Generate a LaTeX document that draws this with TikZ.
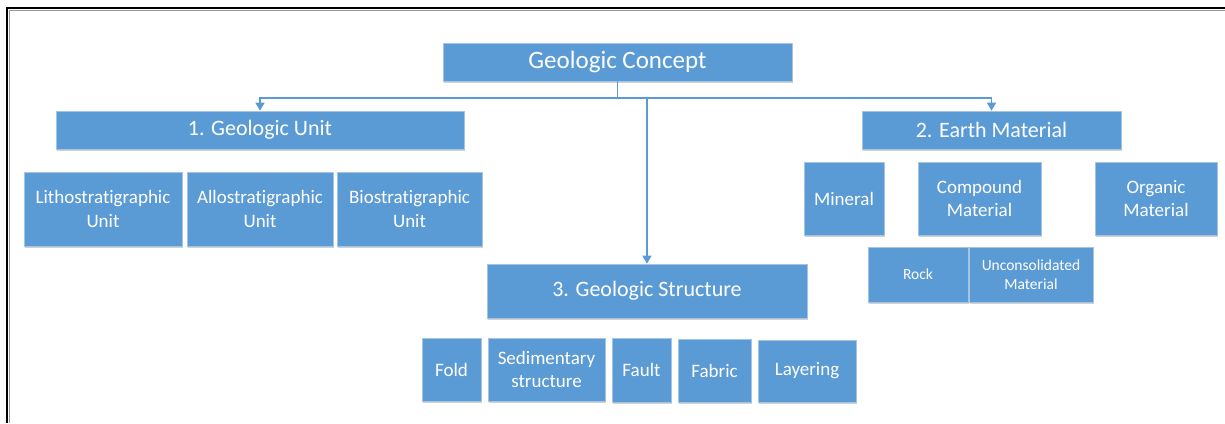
\documentclass[tikz,border=0pt]{standalone}
\usepackage{fontspec}
\setmainfont{Carlito}[Ligatures={NoCommon}]
\usetikzlibrary{arrows.meta,shadows}
\definecolor{offblue}{RGB}{91,155,213}
\definecolor{edgeblue}{RGB}{165,196,228}
\tikzset{
  gbox/.style={fill=offblue, draw=edgeblue, line width=0.6pt, text=white,
    inner sep=2pt, align=center, anchor=center,
    drop shadow={opacity=0.18, shadow xshift=1.2pt, shadow yshift=-1.6pt, fill=black}},
  fbig/.style={font=\fontsize{25}{29}\selectfont},
  fmid/.style={font=\fontsize{22}{26}\selectfont},
  fsml/.style={font=\fontsize{19}{23.5}\selectfont},
  ftiny/.style={font=\fontsize{15.5}{19}\selectfont},
  conn/.style={draw=offblue, line width=1.3pt},
  arr/.style={conn, -{Triangle[width=9pt,length=8pt]}}
}
\begin{document}
\begin{tikzpicture}[x=1pt,y=-1pt]
\useasboundingbox (0,0) rectangle (1225,423);
% frame
\draw[black!40, line width=1pt] (9,423) -- (9,10) -- (1225,10);
\draw[black, line width=1.5pt] (7,423) -- (7,8) -- (1225,8);

% top
\node[gbox,fbig,minimum width=349pt,minimum height=38pt] (gc) at (617.5,62) {Geologic Concept};

% level 1
\node[gbox,fmid,minimum width=408pt,minimum height=38pt] (gu) at (260,130) {1. Geologic Unit};
\node[gbox,fmid,minimum width=259pt,minimum height=38pt] (em) at (991.5,130) {2. Earth Material};
\node[gbox,fmid,minimum width=320pt,minimum height=54pt] (gs) at (647,291) {3. Geologic Structure};

% geologic unit children
\node[gbox,fsml,minimum width=158pt,minimum height=74pt] (litho) at (103,209) {Lithostratigraphic\\Unit};
\node[gbox,fsml,minimum width=146pt,minimum height=74pt] (allo) at (260,209) {Allostratigraphic\\Unit};
\node[gbox,fsml,minimum width=145pt,minimum height=74pt] (bio) at (409.5,209) {Biostratigraphic\\Unit};

% earth material children
\node[gbox,fsml,minimum width=80pt,minimum height=73pt] (mineral) at (844,198.5) {Mineral};
\node[gbox,fsml,minimum width=123pt,minimum height=73pt] (compound) at (979.5,198.5) {Compound\\Material};
\node[gbox,fsml,minimum width=122pt,minimum height=73pt] (organic) at (1156,198.5) {Organic\\Material};
\node[gbox,ftiny,minimum width=100pt,minimum height=55pt] (rock) at (918,274.5) {Rock};
\node[gbox,ftiny,minimum width=124pt,minimum height=55pt] (uncons) at (1031,274.5) {Unconsolidated\\Material};

% geologic structure children
\node[gbox,fsml,minimum width=59pt,minimum height=63pt] (fold) at (451.5,369.5) {Fold};
\node[gbox,fsml,minimum width=117pt,minimum height=63pt] (sed) at (546.5,369.5) {Sedimentary\\structure};
\node[gbox,fsml,minimum width=59pt,minimum height=64pt] (fault) at (641.5,370) {Fault};
\node[gbox,fsml,minimum width=73pt,minimum height=63pt] (fabric) at (714.5,370.5) {Fabric};
\node[gbox,fsml,minimum width=98pt,minimum height=62pt] (layer) at (807,371) {Layering};

% connectors
\coordinate (bus) at (617.5,98);
\draw[conn] (gc.south) -- (bus);
\draw[arr] (bus) -| (gu.north);
\draw[arr] (bus) -| (em.north);
\draw[arr] (bus -| gs.north) -- (gs.north);
\end{tikzpicture}
\end{document}
